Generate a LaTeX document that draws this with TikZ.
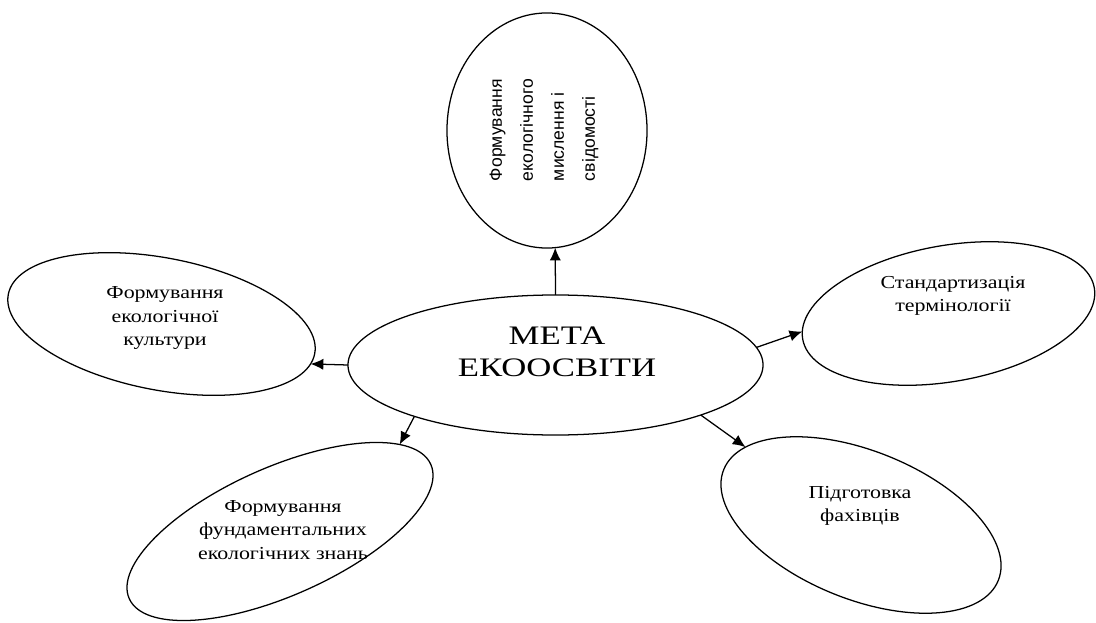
\documentclass[tikz,border=0pt]{standalone}
\usepackage{fontspec}
\usepackage{tikz}
\usetikzlibrary{shapes, shapes.geometric, arrows, arrows.meta}

\newfontfamily\wideserif[FakeStretch=1.3]{Liberation Serif}
\newfontfamily\midserif[FakeStretch=1.2]{Liberation Serif}
\newfontfamily\plainsans{Liberation Sans}

\begin{document}
\begin{tikzpicture}[
    x=0.025cm, y=-0.025cm,
    ell/.style={draw, ellipse, line width=0.9pt, inner sep=0pt, outer sep=0pt},
    goalText/.style={font=\wideserif\fontsize{19}{22.5}\selectfont, align=center},
    smallText/.style={font=\midserif\fontsize{13}{16.5}\selectfont, align=center},
    sideText/.style={font=\plainsans\fontsize{12.5}{22}\selectfont, align=left, rotate=90},
    arr/.style={line width=0.9pt, -{Latex[length=3.2mm, width=2.8mm]}},
    every node/.style={
        text centered,
        }
        ]
    \useasboundingbox (0, 0) rectangle (1096, 623);

    \node[ell, minimum width=10.375cm, minimum height=3.5cm] (centre) at (555.5, 365) {};
    \node[ell, minimum width=5cm, minimum height=5.875cm] (myslennia) at (547, 130.5) {};
    \node[ell, minimum width=7.8cm, minimum height=3.3cm, rotate=-11] (kultura) at (161.5, 324) {};
    \node[ell, minimum width=7.4cm, minimum height=3.4cm, rotate=10] (termin) at (948.5, 313.5) {};
    \node[ell, minimum width=8.25cm, minimum height=3.2cm, rotate=24] (znannia) at (280, 531.5) {};
    \node[ell, minimum width=7.4cm, minimum height=3.7cm, rotate=-22] (fakhivtsi) at (861, 525) {};

    \node[goalText] (centreText) at (557, 352) {МЕТА\\ЕКООСВІТИ};
    \node[sideText] (myslenniaText) at (544, 130) {Формування\\екологічного\\мислення і\\свідомості};
    \node[smallText] (kulturaText) at (165, 318) {Формування\\екологічної\\культури};
    \node[smallText] (terminText) at (953, 296) {Стандартизація\\термінології};
    \node[smallText] (znanniaText) at (283, 530) {Формування\\фундаментальних\\екологічних знань};
    \node[smallText] (fakhivtsiText) at (860, 506) {Підготовка\\фахівців};

    \draw[arr] (centre.90) -- (myslennia.-86);
    \draw[arr] (centre.180) -- (kultura.-4);
    \draw[arr] (centre.5) -- (termin.177);
    \draw[arr] (centre.200) -- (znannia.12);
    \draw[arr] (centre.-19) -- (fakhivtsi.168);
\end{tikzpicture}
\end{document}
